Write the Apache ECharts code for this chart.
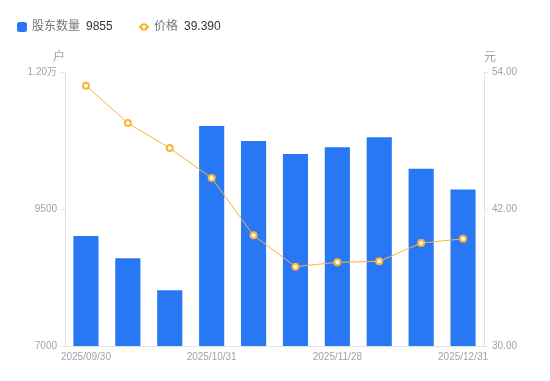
<!DOCTYPE html>
<html><head><meta charset="utf-8">
<script src="https://cdn.jsdelivr.net/npm/echarts@6/dist/echarts.min.js"></script>
<style>html,body{margin:0;padding:0;background:#fff}#c{width:550px;height:381px}</style>
</head><body><div id="c"></div>
<script>
var categories = ['2025/09/30','2025/10/10','2025/10/20','2025/10/31','2025/11/10','2025/11/20','2025/11/28','2025/12/10','2025/12/20','2025/12/31'];
var holders = [9007, 8601, 8016, 11015, 10741, 10504, 10626, 10809, 10236, 9855];
var prices = [52.80, 49.53, 47.34, 44.71, 39.69, 36.95, 37.33, 37.42, 39.02, 39.39];
var leftTicks = [7000, 9500, 12000];
var rightTicks = [30, 42, 54];

var labelColor = '#9fa2b0';
var font = '"Liberation Sans", "Noto Sans CJK SC", sans-serif';
var rich = { n: { color: '#777', fontSize: 12, fontFamily: font }, v: { color: '#333', fontSize: 12, fontFamily: font, padding: [0,0,0,6] } };
var chart = echarts.init(document.getElementById('c'));
chart.setOption({
  animation: false,
  textStyle: { fontFamily: font },
  legend: [{
    left: 12, top: 16, itemWidth: 10, itemHeight: 10,
    textStyle: { fontFamily: font, fontSize: 12, rich: rich },
    formatter: function (name) { return '{n|' + name + '}{v|' + holders[holders.length - 1] + '}'; },
    data: [{ name: '股东数量', icon: 'roundRect' }]
  }, {
    left: 133, top: 16, itemWidth: 10, itemHeight: 7,
    textStyle: { fontFamily: font, fontSize: 12, rich: rich },
    formatter: function (name) { return '{n|' + name + '}{v|' + prices[prices.length - 1].toFixed(3) + '}'; },
    data: [{ name: '价格' }]
  }],
  grid: { left: 65, right: 66, top: 72, bottom: 35 },
  xAxis: {
    type: 'category', data: categories,
    axisLine: { lineStyle: { color: '#e3e3e6' } },
    axisTick: { show: false },
    axisLabel: { color: labelColor, fontSize: 10, interval: 2, margin: 6 }
  },
  yAxis: [{
    type: 'value', min: leftTicks[0], max: leftTicks[2], interval: leftTicks[1] - leftTicks[0],
    name: '户', nameTextStyle: { color: labelColor, fontSize: 12, align: 'right' }, nameGap: 8,
    axisLine: { show: true, lineStyle: { color: '#e3e3e6' } },
    axisTick: { show: true, length: 4, lineStyle: { color: '#e3e3e6' } },
    splitLine: { show: false },
    axisLabel: { color: labelColor, fontSize: 10, margin: 8,
      formatter: function (v) { return v >= 10000 ? (v / 10000).toFixed(2) + '万' : String(v); } }
  }, {
    type: 'value', min: rightTicks[0], max: rightTicks[2], interval: rightTicks[1] - rightTicks[0],
    name: '元', nameTextStyle: { color: labelColor, fontSize: 12, align: 'left' }, nameGap: 8,
    axisLine: { show: true, lineStyle: { color: '#e3e3e6' } },
    axisTick: { show: true, length: 4, lineStyle: { color: '#e3e3e6' } },
    splitLine: { show: false },
    axisLabel: { color: labelColor, fontSize: 10, margin: 8, formatter: function (v) { return v.toFixed(2); } }
  }],
  series: [{
    name: '股东数量', type: 'bar', data: holders, barWidth: '60%',
    itemStyle: { color: '#2878f5' }
  }, {
    name: '价格', type: 'line', yAxisIndex: 1, data: prices,
    symbol: 'emptyCircle', symbolSize: 6,
    lineStyle: { color: '#f9b43a', width: 1 },
    itemStyle: { color: '#f9b43a', borderWidth: 2 }
  }]
});
</script></body></html>
